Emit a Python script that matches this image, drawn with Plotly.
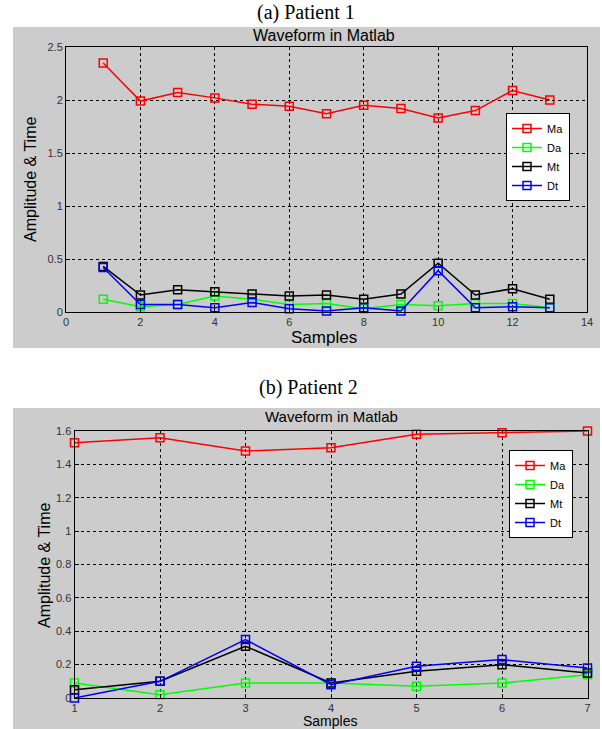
import plotly.graph_objects as go

W, H = 602, 729

# Patient 1 data
x1 = list(range(1, 14))
ma1 = [2.35, 1.99, 2.07, 2.02, 1.96, 1.94, 1.87, 1.95, 1.92, 1.83, 1.90, 2.09, 2.00]
da1 = [0.12, 0.05, 0.07, 0.15, 0.12, 0.07, 0.08, 0.03, 0.07, 0.06, 0.08, 0.08, 0.04]
mt1 = [0.43, 0.16, 0.21, 0.19, 0.17, 0.15, 0.16, 0.12, 0.17, 0.46, 0.16, 0.22, 0.12]
dt1 = [0.42, 0.07, 0.07, 0.04, 0.09, 0.03, 0.01, 0.04, 0.01, 0.39, 0.04, 0.05, 0.04]

# Patient 2 data
x2 = list(range(1, 8))
ma2 = [1.53, 1.56, 1.48, 1.50, 1.58, 1.59, 1.60]
da2 = [0.09, 0.02, 0.09, 0.09, 0.07, 0.09, 0.14]
mt2 = [0.05, 0.10, 0.31, 0.09, 0.16, 0.20, 0.15]
dt2 = [0.00, 0.10, 0.35, 0.08, 0.19, 0.23, 0.18]

names = ["Ma", "Da", "Mt", "Dt"]
colors = ["#ff0000", "#00ff00", "#000000", "#0000ff"]

fig = go.Figure()

def add_series(x, ys, xa, ya, legend):
    for name, y, c in zip(names, ys, colors):
        fig.add_trace(go.Scatter(
            x=x, y=y, name=name, mode="lines+markers",
            line=dict(color=c, width=1.5),
            marker=dict(symbol="square-open", size=8, color=c, line=dict(width=1.5, color=c)),
            xaxis=xa, yaxis=ya, legend=legend, cliponaxis=False,
        ))

add_series(x1, [ma1, da1, mt1, dt1], "x", "y", "legend")
add_series(x2, [ma2, da2, mt2, dt2], "x2", "y2", "legend2")

def px(v):
    return v / W

def py(v):
    return (H - v) / H

axis_common = dict(
    showgrid=True, gridcolor="#000000", griddash="dot", gridwidth=1,
    zeroline=False, showline=True, linecolor="#000000", linewidth=1, mirror=True,
    ticks="inside", ticklen=4, tickcolor="#000000", automargin=False,
    tickfont=dict(family="Arial", size=11, color="#333333"),
)

def ann(text, x, y, size, family="Arial", angle=0):
    return dict(text=text, x=px(x), y=py(y), xref="paper", yref="paper", showarrow=False,
                xanchor="center", yanchor="middle", textangle=angle,
                font=dict(family=family, size=size, color="#000000"))

fig.update_layout(
    template="none",
    width=W, height=H,
    margin=dict(l=0, r=0, t=0, b=0, autoexpand=False),
    paper_bgcolor="white", plot_bgcolor="white",
    xaxis=dict(domain=[px(66), px(587)], range=[0, 14], dtick=2, anchor="y", **axis_common),
    yaxis=dict(domain=[py(312), py(47)], range=[0, 2.5], dtick=0.5, anchor="x", **axis_common),
    xaxis2=dict(domain=[px(74.5), px(587.5)], range=[1, 7], dtick=1, anchor="y2", **axis_common),
    yaxis2=dict(domain=[py(698), py(431)], range=[0, 1.6], dtick=0.2, anchor="x2", **axis_common),
    legend=dict(x=px(506), y=py(113), xanchor="left", yanchor="top",
                bgcolor="white", bordercolor="#000000", borderwidth=1,
                font=dict(family="Arial", size=11, color="#000000"), itemwidth=30),
    legend2=dict(x=px(509), y=py(450), xanchor="left", yanchor="top",
                 bgcolor="white", bordercolor="#000000", borderwidth=1,
                 font=dict(family="Arial", size=11, color="#000000"), itemwidth=30),
    shapes=[
        dict(type="rect", xref="paper", yref="paper", x0=px(13), x1=px(600), y0=py(348), y1=py(27),
             fillcolor="#cccccc", line=dict(width=0), layer="below"),
        dict(type="rect", xref="paper", yref="paper", x0=px(13), x1=px(600), y0=py(729), y1=py(408),
             fillcolor="#cccccc", line=dict(width=0), layer="below"),
    ],
    annotations=[
        ann("(a) Patient 1", 306, 13, 20, "Liberation Serif"),
        ann("Waveform in Matlab", 324, 35, 16),
        ann("Samples", 324, 337, 17),
        ann("Amplitude & Time", 30, 180, 16, angle=-90),
        ann("(b) Patient 2", 308, 387, 20, "Liberation Serif"),
        ann("Waveform in Matlab", 331, 417, 15),
        ann("Samples", 330, 721, 14),
        ann("Amplitude & Time", 44, 566, 16, angle=-90),
    ],
)

fig.write_html("out.html")
